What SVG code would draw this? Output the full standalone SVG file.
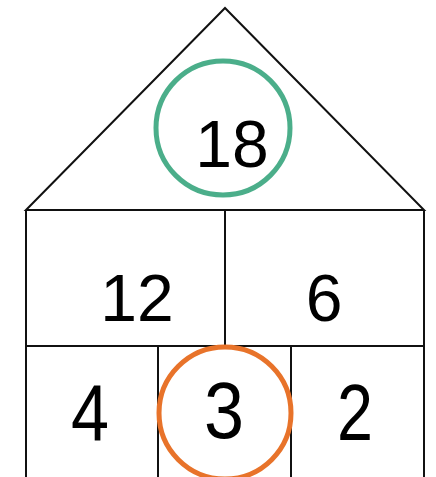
<svg xmlns="http://www.w3.org/2000/svg" width="436" height="477" viewBox="0 0 436 477">
<style>
.ln{stroke:#111;stroke-width:2;fill:none;stroke-linejoin:miter}
.t{font-family:"Liberation Sans",Arial,sans-serif;font-size:66px;fill:#000;text-anchor:middle}
.h{font-family:"Liberation Sans",Arial,sans-serif;font-size:80px;fill:#000;text-anchor:middle}
</style>
<rect width="436" height="477" fill="#fff"/>
<g id="connectors">
<path class="ln" d="M26,210 L225,8 L424,210 Z"/>
<path class="ln" d="M26,210 V477 M424,210 V477 M225,210 V346 M26,346 H424 M158,346 V477 M291,346 V477"/>
</g>
<g id="n18">
<circle cx="223" cy="128" r="67" fill="none" stroke="#4BAE8A" stroke-width="5"/>
<text class="t" x="232" y="167">18</text>
</g>
<g id="n12"><text class="t" x="137" y="321">12</text></g>
<g id="n6"><text class="t" x="324" y="321">6</text></g>
<g id="n4"><text class="h" x="90" y="440" textLength="38" lengthAdjust="spacingAndGlyphs">4</text></g>
<g id="n3">
<circle cx="225" cy="413" r="66" fill="none" stroke="#E8732A" stroke-width="5"/>
<text class="h" x="224" y="438" textLength="40" lengthAdjust="spacingAndGlyphs">3</text>
</g>
<g id="n2"><text class="h" x="355" y="440" textLength="36" lengthAdjust="spacingAndGlyphs">2</text></g>
</svg>
